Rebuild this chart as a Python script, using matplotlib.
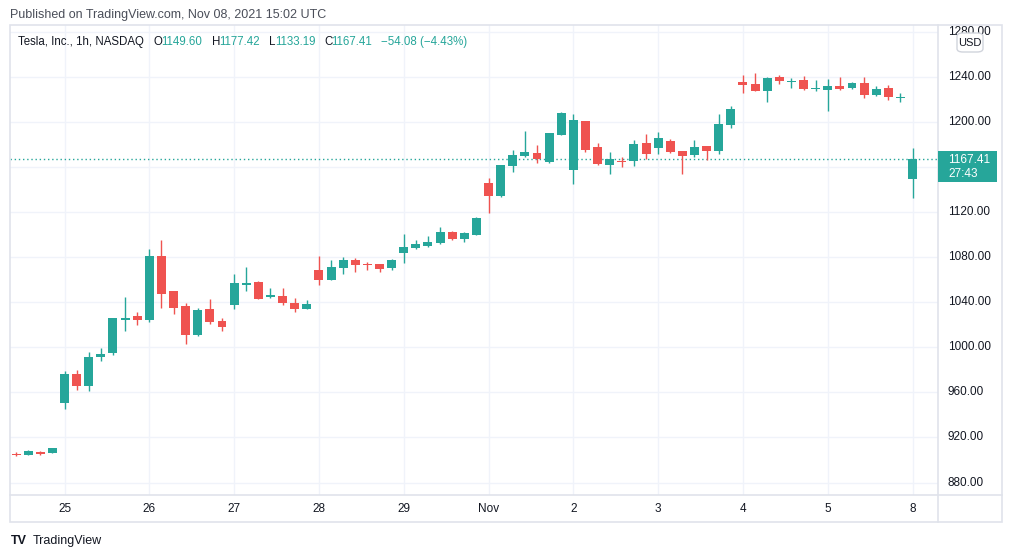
import numpy as np
import matplotlib
matplotlib.use("Agg")
import matplotlib.pyplot as plt
from matplotlib.patches import Rectangle, FancyBboxPatch

# hourly TSLA candles, Oct 22 (last 4 bars) .. Nov 8 (first bar)
opens = [905.2, 904.6, 907.0, 906.2,
         950.8, 976.3, 965.9, 991.7, 995.2, 1024.7, 1027.8,
         1024.5, 1081.1, 1050.0, 1036.7, 1010.9, 1034.0, 1023.4,
         1037.8, 1055.6, 1058.0, 1045.0, 1045.6, 1039.4, 1034.3,
         1068.7, 1060.1, 1070.7, 1077.5, 1074.3, 1074.0, 1070.4,
         1083.8, 1088.2, 1090.0, 1092.7, 1102.4, 1096.2, 1099.8,
         1145.8, 1134.2, 1160.9, 1169.8, 1172.5, 1164.5, 1188.7,
         1157.4, 1200.9, 1177.8, 1161.8, 1165.6, 1165.4, 1181.4,
         1177.2, 1183.1, 1174.2, 1170.7, 1178.7, 1174.2, 1197.4,
         1235.9, 1233.8, 1227.5, 1240.3, 1236.5, 1237.6, 1229.3,
         1228.4, 1232.5, 1230.2, 1235.2, 1224.0, 1230.7, 1222.2,
         1149.60]
highs = [906.8, 908.8, 907.9, 910.8,
         979.0, 979.8, 995.8, 999.4, 1026.3, 1044.7, 1031.4,
         1087.3, 1095.3, 1050.2, 1039.4, 1034.9, 1042.9, 1026.0,
         1065.1, 1071.3, 1059.2, 1052.7, 1052.7, 1043.8, 1042.0,
         1081.1, 1077.5, 1080.2, 1079.3, 1075.5, 1074.2, 1078.4,
         1100.7, 1095.6, 1098.9, 1106.9, 1103.3, 1102.4, 1116.1,
         1150.2, 1162.5, 1175.1, 1192.0, 1179.6, 1190.5, 1208.9,
         1207.1, 1201.2, 1181.4, 1173.3, 1168.9, 1184.0, 1189.3,
         1191.1, 1184.9, 1174.5, 1184.0, 1179.0, 1207.1, 1214.3,
         1242.1, 1243.9, 1240.0, 1242.4, 1239.4, 1241.3, 1237.6,
         1238.5, 1240.0, 1236.1, 1240.6, 1232.5, 1233.2, 1226.3,
         1177.42]
lows = [903.5, 904.5, 904.3, 906.0,
        945.5, 962.3, 961.4, 988.1, 993.4, 1014.8, 1020.1,
        1022.5, 1035.2, 1029.8, 1003.2, 1010.0, 1021.0, 1014.8,
        1034.3, 1050.3, 1043.0, 1044.1, 1037.8, 1031.6, 1034.0,
        1055.6, 1060.0, 1065.1, 1067.2, 1069.0, 1066.9, 1068.7,
        1075.2, 1087.3, 1089.1, 1091.8, 1095.3, 1093.5, 1099.5,
        1119.1, 1133.4, 1155.6, 1168.9, 1163.6, 1164.2, 1188.5,
        1145.0, 1173.3, 1161.8, 1153.8, 1160.0, 1160.9, 1167.1,
        1171.6, 1173.0, 1153.8, 1168.9, 1166.3, 1171.6, 1194.6,
        1226.1, 1227.5, 1218.4, 1233.8, 1230.2, 1229.0, 1227.5,
        1209.7, 1229.0, 1229.3, 1221.3, 1223.8, 1219.9, 1218.4,
        1133.19]
closes = [904.8, 907.9, 905.5, 910.5,
          976.3, 965.9, 991.4, 994.0, 1026.0, 1026.0, 1024.5,
          1081.1, 1047.6, 1035.2, 1011.2, 1033.1, 1022.7, 1018.3,
          1057.1, 1057.1, 1043.2, 1046.4, 1039.6, 1034.3, 1038.5,
          1060.1, 1071.3, 1077.5, 1073.4, 1073.9, 1069.6, 1077.5,
          1089.1, 1091.8, 1093.5, 1102.4, 1096.2, 1101.5, 1114.8,
          1134.2, 1161.8, 1170.7, 1173.3, 1167.1, 1190.2, 1208.0,
          1201.8, 1175.1, 1162.7, 1167.1, 1165.2, 1180.5, 1171.6,
          1186.2, 1173.3, 1169.8, 1177.8, 1174.2, 1198.2, 1211.6,
          1233.2, 1227.9, 1239.4, 1236.4, 1236.9, 1229.3, 1230.7,
          1232.5, 1229.3, 1235.2, 1224.0, 1229.9, 1222.2, 1222.6,
          1167.41]

day_labels = ["25", "26", "27", "28", "29", "Nov", "2", "3", "4", "5", "8"]
day_start_idx = [4, 11, 18, 25, 32, 39, 46, 53, 60, 67, 74]
price_ticks = [880, 920, 960, 1000, 1040, 1080, 1120, 1160, 1200, 1240, 1280]
# the 1160 label sits under the last-price box in the reference
hidden_ticks = [1160]

last_price = 1167.41
countdown = "27:43"

GREEN = "#26a69a"
RED = "#ef5350"
TEXT = "#131722"
GRID = "#f0f3fa"
BORDER = "#e0e3eb"

W, H = 1012, 558


def fx(px):
    return px / W


def fy(py):
    return 1 - py / H


plt.rcParams["font.family"] = ["Liberation Sans", "DejaVu Sans"]

fig = plt.figure(figsize=(W / 100, H / 100), dpi=100)
ax = fig.add_axes([fx(10), fy(495), fx(938) - fx(10), fy(25) - fy(495)])

o = np.array(opens)
h = np.array(highs)
l = np.array(lows)
c = np.array(closes)
x = np.arange(len(o))
cols = np.where(c >= o, GREEN, RED)

ax.vlines(x, l, h, colors=cols, linewidth=1, zorder=3)
body_h = np.maximum(np.abs(c - o), 0.9)
body_mid = (o + c) / 2
ax.bar(x, body_h, bottom=body_mid - body_h / 2, width=0.74, color=cols,
       linewidth=0, zorder=4)

ax.axhline(last_price, color=GREEN, linestyle=(0, (1, 2)), linewidth=1, zorder=2)

ax.set_xlim(-0.5, 76.1)
ax.set_ylim(868.9, 1286.5)
ax.set_xticks(day_start_idx)
ax.set_yticks(price_ticks)
ax.grid(True, color=GRID, linewidth=1, zorder=0)
ax.tick_params(length=0, labelleft=False, labelbottom=False)
for s in ax.spines.values():
    s.set_visible(False)

# price axis labels
for p in price_ticks:
    if p in hidden_ticks:
        continue
    yy = ax.transData.transform((0, p))[1] / H
    fig.text(fx(948), yy, f"{p:.2f}", fontsize=8.5, color=TEXT,
             ha="left", va="center", zorder=3)

# time axis labels
for lab, i in zip(day_labels, day_start_idx):
    xx = ax.transData.transform((i, 0))[0] / W
    fig.text(xx, fy(509), lab, fontsize=8.5, color=TEXT, ha="center", va="center")

# frame and separators
fig.add_artist(Rectangle((fx(10), fy(522)), fx(1002) - fx(10), fy(25) - fy(522),
                         transform=fig.transFigure, fill=False,
                         edgecolor=BORDER, linewidth=1.2))
fig.add_artist(plt.Line2D([fx(10), fx(1002)], [fy(495), fy(495)],
                          transform=fig.transFigure, color=BORDER, linewidth=1.2))
fig.add_artist(plt.Line2D([fx(938), fx(938)], [fy(25), fy(522)],
                          transform=fig.transFigure, color=BORDER, linewidth=1.2))

# last price label
fig.add_artist(Rectangle((fx(938), fy(182)), fx(997) - fx(938), fy(151) - fy(182),
                         transform=fig.transFigure, color=GREEN, linewidth=0,
                         zorder=6))
fig.text(fx(948), fy(160), f"{last_price:.2f}", fontsize=8.5, color="white",
         ha="left", va="center", zorder=7)
fig.text(fx(948), fy(174), countdown, fontsize=8.5, color="white",
         ha="left", va="center", zorder=7)

# USD badge (sits over the 1280 tick label)
fig.add_artist(FancyBboxPatch((fx(957), fy(52)), fx(983) - fx(957), fy(33) - fy(52),
                              boxstyle="round,pad=0,rounding_size=0.006",
                              transform=fig.transFigure, facecolor="white",
                              edgecolor="#d1d4dc", linewidth=1, zorder=6))
fig.text(fx(970), fy(43), "USD", fontsize=8, color=TEXT, ha="center",
         va="center", zorder=7)

# header texts
fig.text(fx(10), fy(15), "Published on TradingView.com, Nov 08, 2021 15:02 UTC",
         fontsize=9, color="#4a4e59", ha="left", va="center")
hdr_y = fy(42)
hfs = 8.3
fig.text(fx(18), hdr_y, "Tesla, Inc., 1h, NASDAQ", fontsize=hfs, color=TEXT, va="center")
ohlc_parts = [("O", 154, "1149.60", 161), ("H", 212, "1177.42", 219),
              ("L", 269, "1133.19", 275), ("C", 324, "1167.41", 331)]
for key, kx, val, vx in ohlc_parts:
    fig.text(fx(kx), hdr_y, key, fontsize=hfs, color=TEXT, va="center")
    fig.text(fx(vx), hdr_y, val, fontsize=hfs, color=GREEN, va="center")
fig.text(fx(381), hdr_y, "\u221254.08 (\u22124.43%)", fontsize=hfs, color=GREEN, va="center")

# footer logo
fig.text(fx(11), fy(541), "TV", fontsize=9, fontweight="heavy", color=TEXT, va="center")
fig.text(fx(33), fy(541), "TradingView", fontsize=9, color=TEXT, va="center")

fig.savefig("out.png", dpi=100, facecolor="white")
